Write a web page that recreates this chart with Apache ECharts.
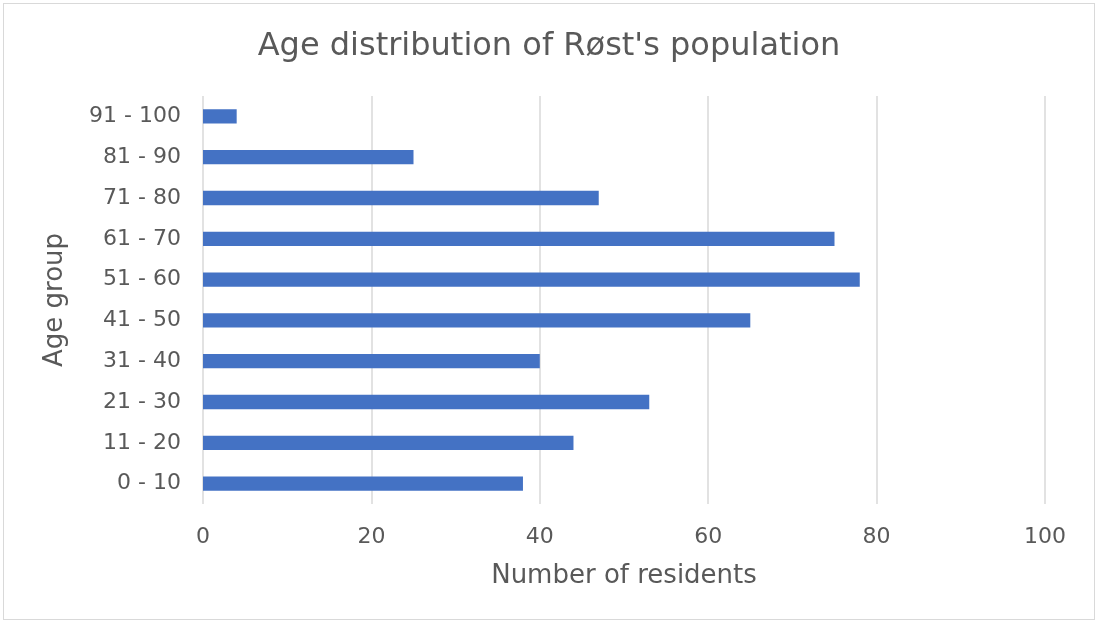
<!DOCTYPE html>
<html>
<head>
<meta charset="utf-8">
<script src="https://cdn.jsdelivr.net/npm/echarts@6/dist/echarts.min.js"></script>
<style>
  html, body { margin: 0; padding: 0; background: #fff; }
  #chart { width: 1098px; height: 624px; }
  .frame { position: absolute; left: 3px; top: 3px; width: 1090px; height: 615px; border: 1px solid #d9d9d9; pointer-events: none; }
</style>
</head>
<body>
<div id="chart"></div>
<div class="frame"></div>
<script>
  // age groups, bottom to top
  const ageGroups = ['0 - 10', '11 - 20', '21 - 30', '31 - 40', '41 - 50', '51 - 60', '61 - 70', '71 - 80', '81 - 90', '91 - 100']
  const residents = [38, 44, 53, 40, 65, 78, 75, 47, 25, 4]
  const xTicks = { min: 0, max: 100, interval: 20 }

  const font = 'DejaVu Sans, Verdana, sans-serif'
  const chart = echarts.init(document.getElementById('chart'))
  chart.setOption({
    animation: false,
    title: {
      text: "Age distribution of Røst's population",
      left: 'center',
      top: 26,
      textStyle: { fontFamily: font, fontSize: 32, fontWeight: 'normal', color: '#595959' }
    },
    grid: { left: 203, right: 53, top: 96, bottom: 120 },
    xAxis: {
      type: 'value',
      min: xTicks.min,
      max: xTicks.max,
      interval: xTicks.interval,
      name: 'Number of residents',
      nameLocation: 'middle',
      nameGap: 59,
      nameTextStyle: { fontFamily: font, fontSize: 26, color: '#595959' },
      axisLine: { show: false },
      axisTick: { show: false },
      axisLabel: { fontFamily: font, fontSize: 22, color: '#595959', margin: 22 },
      splitLine: { lineStyle: { color: '#d9d9d9', width: 1.5 } }
    },
    yAxis: {
      type: 'category',
      data: ageGroups,
      name: 'Age group',
      nameLocation: 'middle',
      nameGap: 135,
      nameTextStyle: { fontFamily: font, fontSize: 26, color: '#595959' },
      axisLine: { show: false },
      axisTick: { show: false },
      axisLabel: { fontFamily: font, fontSize: 22, color: '#595959', margin: 22 }
    },
    series: [{
      type: 'bar',
      data: residents,
      barWidth: '35%',
      itemStyle: { color: '#4472C4' }
    }]
  })
</script>
</body>
</html>
